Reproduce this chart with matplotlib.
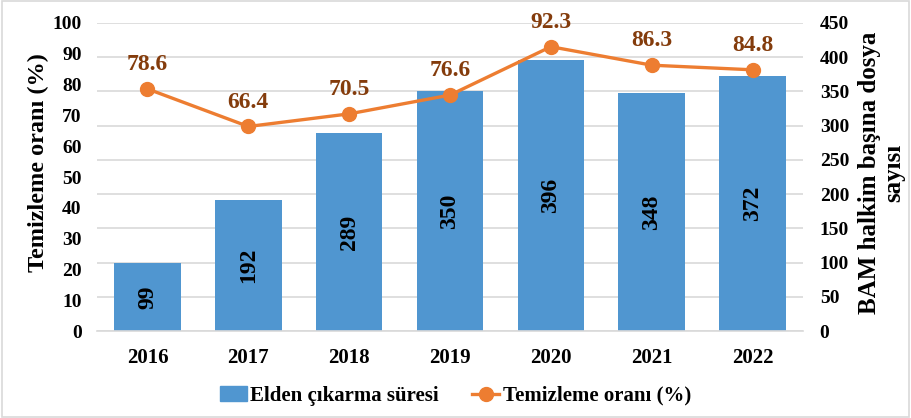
import numpy as np
import matplotlib.pyplot as plt
from matplotlib.patches import Rectangle
from matplotlib.lines import Line2D
from matplotlib.patches import Patch

years = ['2016', '2017', '2018', '2019', '2020', '2021', '2022']
sure = [99, 192, 289, 350, 396, 348, 372]          # Elden çıkarma süresi (sağ eksen)
oran = [78.6, 66.4, 70.5, 76.6, 92.3, 86.3, 84.8]  # Temizleme oranı (%) (sol eksen)

plt.rcParams['font.family'] = ['Liberation Serif', 'DejaVu Serif']
plt.rcParams['font.weight'] = 'bold'

bar_col = '#5096D0'
line_col = '#ED7D31'
lab_col = '#843C0C'
grid_col = '#D9D9D9'

fig = plt.figure(figsize=(9.11, 4.18), dpi=100)
ax = fig.add_axes([0.1065, 0.2081, 0.775, 0.7369])
ax2 = ax.twinx()
x = np.arange(len(years))

# barres sur l'axe droit, en dessous
bars = ax2.bar(x, sure, width=0.66, color=bar_col, zorder=2)
for xi, v in zip(x, sure):
    ax2.text(xi, v / 2, str(v), rotation=90, ha='center', va='center',
             fontsize=17, fontweight='bold', color='black', zorder=3)
ax2.set_ylim(0, 450)
ax2.set_yticks(np.arange(0, 451, 50))
ax2.grid(axis='y', color=grid_col, linewidth=1.2, zorder=0)
ax2.set_axisbelow(True)

# courbe sur l'axe gauche, au-dessus
ax.set_zorder(ax2.get_zorder() + 1)
ax.patch.set_visible(False)
ax.plot(x, oran, color=line_col, linewidth=2.4, marker='o', markersize=10, zorder=4)
for xi, v in zip(x, oran):
    ax.annotate(f'{v:.1f}', (xi, v), textcoords='offset points', xytext=(0, 10),
                ha='center', va='bottom', fontsize=17, fontweight='bold', color=lab_col)
ax.set_ylim(0, 100)
ax.set_yticks(np.arange(0, 101, 10))
ax.set_xlim(-0.5, len(years) - 0.5)
ax.set_xticks(x)
ax.set_xticklabels(years)

for a in (ax, ax2):
    for s in a.spines.values():
        s.set_visible(False)
    a.tick_params(length=0, labelsize=14)
ax.spines['bottom'].set_visible(True)
ax.spines['bottom'].set_color(grid_col)
ax.spines['bottom'].set_linewidth(1.2)
ax.tick_params(axis='x', pad=12, labelsize=15)
ax.tick_params(axis='y', pad=11)
ax2.tick_params(axis='y', pad=12)

# titres des axes
fig.text(0.042, 0.612, 'Temizleme oranı (%)', rotation=90, ha='center', va='center',
         fontsize=17.5, fontweight='bold')
fig.text(0.968, 0.586, 'BAM halkim başına dosya\nsayısı', rotation=90, ha='center',
         va='center', multialignment='center', fontsize=18, fontweight='bold',
         linespacing=1.05)

handles = [Patch(color=bar_col),
           Line2D([0], [0], color=line_col, linewidth=2.4, marker='o', markersize=10)]
fig.legend(handles, ['Elden çıkarma süresi', 'Temizleme oranı (%)'], loc='center',
           bbox_to_anchor=(0.5, 0.053), ncol=2, frameon=False, fontsize=15,
           handlelength=1.3, handletextpad=0.15, columnspacing=1.6)

fig.add_artist(Rectangle((0.002, 0.003), 0.996, 0.994, transform=fig.transFigure,
                         fill=False, edgecolor=grid_col, linewidth=1.2))

fig.savefig('out.png', dpi=100)
